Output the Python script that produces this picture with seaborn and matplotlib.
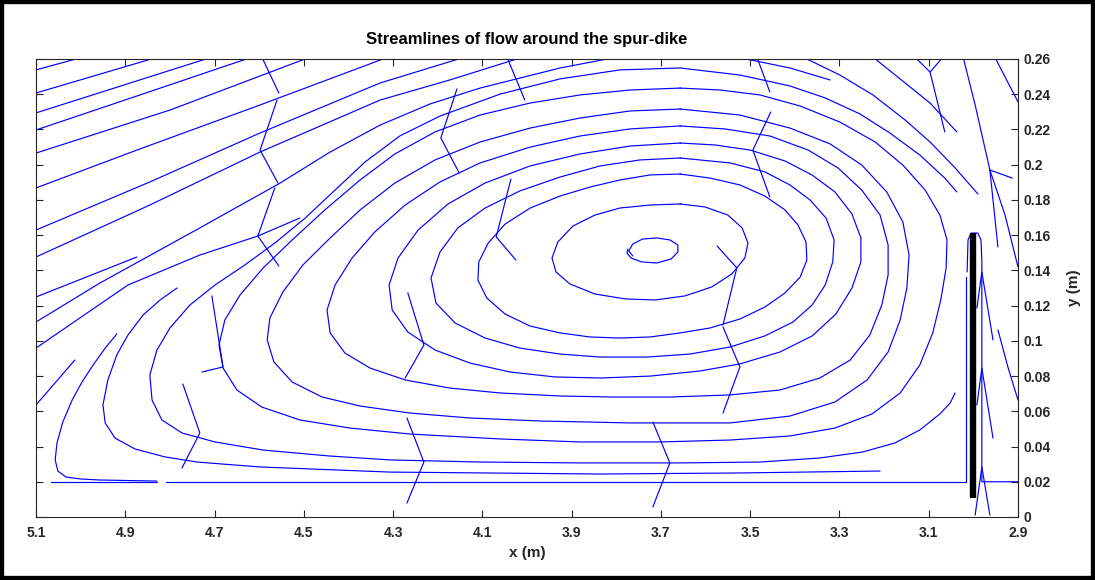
import numpy as np
import pandas as pd
import matplotlib
matplotlib.use("Agg")
import matplotlib.pyplot as plt
import seaborn as sns
from matplotlib.patches import Rectangle

# ---------------- data (x, y in metres) ----------------
# straight streamlines entering from the left edge
A1_x = [5.100, 4.995]; A1_y = [0.2538, 0.2611]
A2_x = [5.100, 4.827]; A2_y = [0.2407, 0.2611]
A3_x = [5.100, 4.706]; A3_y = [0.2294, 0.2611]
A4_x = [5.100, 4.867, 4.616]; A4_y = [0.2197, 0.2396, 0.2611]
A5_x = [5.100, 4.800, 4.486]; A5_y = [0.2066, 0.2310, 0.2611]
A6_x = [5.100, 4.874, 4.598, 4.311]; A6_y = [0.1868, 0.2083, 0.2339, 0.2611]
A7_x = [5.100, 4.845, 4.598, 4.329, 4.139]; A7_y = [0.1629, 0.1902, 0.2180, 0.2464, 0.2611]
A8_x = [5.100, 4.845, 4.598, 4.329, 4.173, 4.009]; A8_y = [0.1476, 0.1771, 0.2072, 0.2367, 0.2481, 0.2611]
A9_x = [5.100, 4.874]; A9_y = [0.1249, 0.1476]
A10_x = [5.100, 4.957, 4.733, 4.553, 4.441, 4.329, 4.217, 4.105, 3.926, 3.798]
A10_y = [0.1107, 0.1328, 0.1641, 0.1896, 0.2072, 0.2225, 0.2345, 0.2435, 0.2549, 0.2611]
A11_x = [5.100, 4.894, 4.733, 4.603, 4.509]; A11_y = [0.0959, 0.1317, 0.1487, 0.1595, 0.1697]
S1_x = [5.100, 5.013]; S1_y = [0.0636, 0.0891]

# large spiralling streamlines of the recirculation zone
U1_x = [4.919, 4.945, 4.972, 4.997, 5.019, 5.040, 5.053, 5.057, 5.051, 5.033, 5.001, 4.957, 4.829]
U1_y = [0.1039, 0.0959, 0.0863, 0.0766, 0.0664, 0.0539, 0.0420, 0.0324, 0.0261, 0.0227, 0.0216,
        0.0210, 0.0204]
U2_x = [4.784, 4.822, 4.860, 4.894, 4.919, 4.939, 4.950, 4.945, 4.923, 4.878, 4.811, 4.739, 4.598,
        4.307, 3.836, 3.523, 3.209]
U2_y = [0.1300, 0.1232, 0.1147, 0.1033, 0.0920, 0.0778, 0.0636, 0.0534, 0.0448, 0.0386, 0.0341,
        0.0312, 0.0284, 0.0255, 0.0244, 0.0250, 0.0261]
U3_x = [3.037, 3.064, 3.120, 3.187, 3.254, 3.332, 3.411, 3.523, 3.657, 3.792, 3.926, 4.060, 4.195,
        4.285, 4.363, 4.430, 4.497, 4.565, 4.632, 4.699, 4.755, 4.800, 4.829, 4.845, 4.840, 4.818,
        4.773, 4.699, 4.591, 4.441, 4.307, 4.105, 3.881, 3.657, 3.478, 3.344, 3.248, 3.176, 3.120,
        3.075, 3.052, 3.041]
U3_y = [0.1845, 0.1924, 0.2055, 0.2180, 0.2288, 0.2379, 0.2447, 0.2509, 0.2549, 0.2538, 0.2487,
        0.2401, 0.2276, 0.2163, 0.2015, 0.1856, 0.1697, 0.1555, 0.1431, 0.1317, 0.1204, 0.1073,
        0.0948, 0.0806, 0.0664, 0.0551, 0.0477, 0.0426, 0.0380, 0.0346, 0.0324, 0.0312, 0.0307,
        0.0307, 0.0312, 0.0335, 0.0369, 0.0420, 0.0494, 0.0585, 0.0647, 0.0704]
U4_x = [3.657, 3.769, 3.881, 3.993, 4.105, 4.206, 4.296, 4.374, 4.453, 4.526, 4.591, 4.643, 4.677,
        4.690, 4.681, 4.650, 4.594, 4.509, 4.397, 4.262, 4.060, 3.881, 3.702, 3.545, 3.411, 3.310,
        3.227, 3.164, 3.120, 3.091, 3.073, 3.061, 3.059, 3.075, 3.108, 3.158, 3.220, 3.299, 3.388,
        3.478, 3.568, 3.657]
U4_y = [0.2435, 0.2424, 0.2396, 0.2350, 0.2282, 0.2186, 0.2061, 0.1913, 0.1743, 0.1573, 0.1414,
        0.1260, 0.1118, 0.0976, 0.0846, 0.0721, 0.0624, 0.0551, 0.0505, 0.0471, 0.0443, 0.0426,
        0.0426, 0.0437, 0.0460, 0.0505, 0.0585, 0.0704, 0.0863, 0.1045, 0.1232, 0.1414, 0.1573,
        0.1714, 0.1856, 0.1998, 0.2129, 0.2242, 0.2333, 0.2396, 0.2424, 0.2435]
U5_x = [3.657, 3.769, 3.881, 3.993, 4.105, 4.206, 4.296, 4.374, 4.441, 4.502, 4.547, 4.576, 4.582,
        4.567, 4.526, 4.459, 4.374, 4.262, 4.128, 3.971, 3.769, 3.545, 3.411, 3.310, 3.238, 3.191,
        3.164, 3.149, 3.144, 3.158, 3.194, 3.250, 3.321, 3.411, 3.523, 3.657]
U5_y = [0.2316, 0.2305, 0.2265, 0.2208, 0.2129, 0.2027, 0.1896, 0.1743, 0.1584, 0.1431, 0.1277,
        0.1130, 0.1005, 0.0880, 0.0766, 0.0681, 0.0630, 0.0590, 0.0562, 0.0545, 0.0534, 0.0534,
        0.0573, 0.0653, 0.0778, 0.0937, 0.1118, 0.1300, 0.1487, 0.1675, 0.1845, 0.1998, 0.2118,
        0.2208, 0.2282, 0.2316]
U6_x = [3.657, 3.769, 3.881, 3.993, 4.105, 4.195, 4.273, 4.341, 4.392, 4.430, 4.448, 4.441, 4.408,
        4.352, 4.273, 4.173, 4.060, 3.926, 3.807, 3.680, 3.545, 3.433, 3.344, 3.276, 3.232, 3.205,
        3.191, 3.191, 3.209, 3.250, 3.303, 3.370, 3.456, 3.557, 3.657]
U6_y = [0.2220, 0.2203, 0.2163, 0.2100, 0.2010, 0.1902, 0.1771, 0.1618, 0.1470, 0.1317, 0.1175,
        0.1045, 0.0931, 0.0846, 0.0778, 0.0732, 0.0704, 0.0687, 0.0681, 0.0681, 0.0693, 0.0721,
        0.0789, 0.0891, 0.1033, 0.1204, 0.1374, 0.1544, 0.1714, 0.1856, 0.1981, 0.2083, 0.2163,
        0.2203, 0.2220]
R5_x = [3.657, 3.769, 3.881, 3.993, 4.094, 4.177, 4.244, 4.289, 4.309, 4.302, 4.267, 4.206, 4.128,
        4.038, 3.937, 3.836, 3.724, 3.612, 3.523, 3.433, 3.361, 3.308, 3.272, 3.252, 3.252, 3.272,
        3.310, 3.361, 3.422, 3.500, 3.579, 3.657]
R5_y = [0.2123, 0.2106, 0.2061, 0.1993, 0.1896, 0.1777, 0.1629, 0.1470, 0.1317, 0.1175, 0.1050,
        0.0948, 0.0874, 0.0823, 0.0795, 0.0789, 0.0800, 0.0829, 0.0869, 0.0937, 0.1028, 0.1152,
        0.1300, 0.1448, 0.1584, 0.1720, 0.1845, 0.1941, 0.2021, 0.2083, 0.2112, 0.2123]
R4_x = [3.657, 3.747, 3.836, 3.926, 4.016, 4.094, 4.155, 4.195, 4.215, 4.204, 4.161, 4.094, 4.016,
        3.926, 3.836, 3.731, 3.635, 3.545, 3.467, 3.404, 3.361, 3.332, 3.315, 3.312, 3.330, 3.366,
        3.411, 3.467, 3.545, 3.657]
R4_y = [0.2038, 0.2027, 0.1993, 0.1930, 0.1851, 0.1754, 0.1641, 0.1504, 0.1357, 0.1215, 0.1101,
        0.1016, 0.0959, 0.0925, 0.0908, 0.0908, 0.0925, 0.0965, 0.1028, 0.1107, 0.1204, 0.1317,
        0.1448, 0.1573, 0.1697, 0.1800, 0.1885, 0.1959, 0.2010, 0.2038]
R3_x = [3.657, 3.724, 3.792, 3.859, 3.926, 3.993, 4.049, 4.087, 4.108, 4.110, 4.090, 4.049, 3.993,
        3.926, 3.859, 3.792, 3.724, 3.657, 3.590, 3.523, 3.467, 3.422, 3.388, 3.373, 3.375, 3.393,
        3.422, 3.467, 3.523, 3.590, 3.657]
R3_y = [0.1947, 0.1942, 0.1913, 0.1873, 0.1822, 0.1754, 0.1663, 0.1555, 0.1448, 0.1345, 0.1243,
        0.1152, 0.1084, 0.1045, 0.1022, 0.1016, 0.1022, 0.1045, 0.1073, 0.1124, 0.1192, 0.1272,
        0.1362, 0.1459, 0.1561, 0.1658, 0.1743, 0.1822, 0.1885, 0.1924, 0.1947]
R2_x = [3.657, 3.724, 3.792, 3.848, 3.897, 3.931, 3.944, 3.935, 3.904, 3.848, 3.780, 3.713, 3.646,
        3.586, 3.541, 3.512, 3.505, 3.518, 3.550, 3.601, 3.657]
R2_y = [0.1777, 0.1771, 0.1754, 0.1714, 0.1652, 0.1561, 0.1470, 0.1391, 0.1323, 0.1266, 0.1238,
        0.1232, 0.1255, 0.1306, 0.1380, 0.1470, 0.1555, 0.1641, 0.1714, 0.1760, 0.1777]
R1_x = [3.763, 3.772, 3.763, 3.741, 3.709, 3.680, 3.662, 3.662, 3.677, 3.709, 3.743, 3.767, 3.776, 3.774]
R1_y = [0.1482, 0.1510, 0.1550, 0.1578, 0.1584, 0.1573, 0.1544, 0.1504, 0.1465, 0.1442, 0.1448,
        0.1470, 0.1499, 0.1521]

# streamlines in the upper-right corner and beside the spur-dike
T1_x = [3.530, 3.411, 3.321]; T1_y = [0.2611, 0.2549, 0.2481]
T2_x = [3.382, 3.299, 3.225, 3.153, 3.097, 3.041, 2.990]
T2_y = [0.2611, 0.2509, 0.2396, 0.2254, 0.2129, 0.1982, 0.1834]
T3_x = [3.225, 3.097, 3.037]; T3_y = [0.2611, 0.2350, 0.2186]
F1_x = [5.066, 4.829]; F1_y = [0.0200, 0.0200]
F2_x = [4.809, 3.017, 3.017]; F2_y = [0.0200, 0.0200, 0.1362]
D1_x = [3.014, 3.012, 3.005, 2.990, 2.983, 2.981, 2.981, 2.900]
D1_y = [0.1391, 0.1573, 0.1612, 0.1612, 0.1573, 0.1459, 0.0200, 0.0200]
E1_x = [3.023, 2.996, 2.963, 2.945]; E1_y = [0.2611, 0.2339, 0.1970, 0.1533]
E2_x = [2.963, 2.929, 2.900]; E2_y = [0.1970, 0.1714, 0.1419]
E3_x = [2.952, 2.900]; E3_y = [0.2611, 0.2356]
E4_x = [2.945, 2.922, 2.900]; E4_y = [0.1062, 0.0846, 0.0664]

# arrow heads drawn by the streamslice routine
C1_x = [4.594, 4.556]; C1_y = [0.2611, 0.2407]
C2_x = [4.560, 4.598, 4.558]; C2_y = [0.2367, 0.2083, 0.1896]
C3_x = [4.565, 4.603, 4.556]; C3_y = [0.1868, 0.1595, 0.1425]
C4_x = [4.045, 4.005]; C4_y = [0.2611, 0.2367]
C5_x = [4.157, 4.193, 4.152]; C5_y = [0.2430, 0.2152, 0.1953]
C6_x = [4.036, 4.069, 4.025]; C6_y = [0.1919, 0.1590, 0.1459]
C7_x = [3.485, 3.456]; C7_y = [0.2611, 0.2413]
C8_x = [3.454, 3.494, 3.456]; C8_y = [0.2299, 0.2083, 0.1817]
C9_x = [3.574, 3.530, 3.561]; C9_y = [0.1538, 0.1414, 0.1090]
C10_x = [3.561, 3.523, 3.561]; C10_y = [0.1079, 0.0852, 0.0590]
C11_x = [4.269, 4.231, 4.269]; C11_y = [0.0562, 0.0312, 0.0079]
C12_x = [3.718, 3.680, 3.718]; C12_y = [0.0539, 0.0307, 0.0057]
C13_x = [4.267, 4.231, 4.273]; C13_y = [0.1272, 0.0976, 0.0789]
C14_x = [4.771, 4.733, 4.773]; C14_y = [0.0755, 0.0477, 0.0278]
C15_x = [4.706, 4.681, 4.728]; C15_y = [0.1255, 0.0852, 0.0823]
C16_x = [3.131, 3.097, 3.068]; C16_y = [0.2611, 0.2526, 0.2611]
C17_x = [3.097, 3.064]; C17_y = [0.2526, 0.2186]
C18_x = [2.963, 2.913]; C18_y = [0.1970, 0.1924]
C19_x = [2.992, 2.981, 2.956]; C19_y = [0.1186, 0.1391, 0.1005]
C20_x = [2.992, 2.981, 2.956]; C20_y = [0.0636, 0.0846, 0.0448]
C21_x = [2.996, 2.981, 2.963]; C21_y = [0.0011, 0.0284, 0.0011]

# spur-dike
dike_x = [3.0, 3.0]
dike_y = [0.011, 0.161]

x_ticks = [5.1, 4.9, 4.7, 4.5, 4.3, 4.1, 3.9, 3.7, 3.5, 3.3, 3.1, 2.9]
x_labels = ["5.1", "4.9", "4.7", "4.5", "4.3", "4.1", "3.9", "3.7", "3.5", "3.3", "3.1", "2.9"]
y_ticks = [0, 0.02, 0.04, 0.06, 0.08, 0.1, 0.12, 0.14, 0.16, 0.18, 0.2, 0.22, 0.24, 0.26]
y_labels = ["0", "0.02", "0.04", "0.06", "0.08", "0.1", "0.12", "0.14", "0.16", "0.18", "0.2",
            "0.22", "0.24", "0.26"]

# ---------------- assemble ----------------
g = globals()
names = [n[:-2] for n in list(g) if n.endswith("_x") and n[:-2] + "_y" in g
         and n != "dike_x"]
frames = []
for n in names:
    xs, ys = g[n + "_x"], g[n + "_y"]
    frames.append(pd.DataFrame({"x": xs, "y": ys, "line": n}))
df = pd.concat(frames, ignore_index=True)
dike_df = pd.DataFrame({"x": dike_x, "y": dike_y})

sns.set_style("white")
plt.rcParams["font.family"] = ["Liberation Sans", "DejaVu Sans"]

fig = plt.figure(figsize=(10.95, 5.8), dpi=100)
ax = fig.add_axes([36 / 1095, 1 - 517 / 580, 982 / 1095, 458 / 580])

sns.lineplot(data=df, x="x", y="y", units="line", estimator=None, sort=False,
             color="#0000ff", lw=0.85, ax=ax, legend=False)
sns.lineplot(data=dike_df, x="x", y="y", estimator=None, sort=False,
             color="black", lw=4.6, ax=ax, legend=False, solid_capstyle="butt")

ax.set_xlim(5.1, 2.9)
ax.set_ylim(0, 0.26)
ax.set_xticks(x_ticks, labels=x_labels, fontweight="bold")
ax.set_yticks(y_ticks, labels=y_labels, fontweight="bold")
ax.yaxis.tick_right()
ax.yaxis.set_label_position("right")
ax.tick_params(direction="in", top=True, bottom=True, left=True, right=True,
               labelleft=False, labelright=True, length=5, width=0.8,
               colors="#262626", labelsize=10, pad=4)
ax.tick_params(axis="x", pad=6.5)
for s in ax.spines.values():
    s.set_color("#262626")
    s.set_linewidth(0.8)

ax.set_xlabel("x (m)", fontweight="bold", fontsize=11, color="#262626", labelpad=4)
ax.set_ylabel("y (m)", fontweight="bold", fontsize=11, color="#262626", labelpad=12)
ax.set_title("Streamlines of flow around the spur-dike", fontweight="bold",
             fontsize=12, color="black", pad=11)

fig.add_artist(Rectangle((0, 0), 1, 1, transform=fig.transFigure, fill=False,
                         edgecolor="black", lw=6, clip_on=False))

fig.savefig("out.png", dpi=100)
